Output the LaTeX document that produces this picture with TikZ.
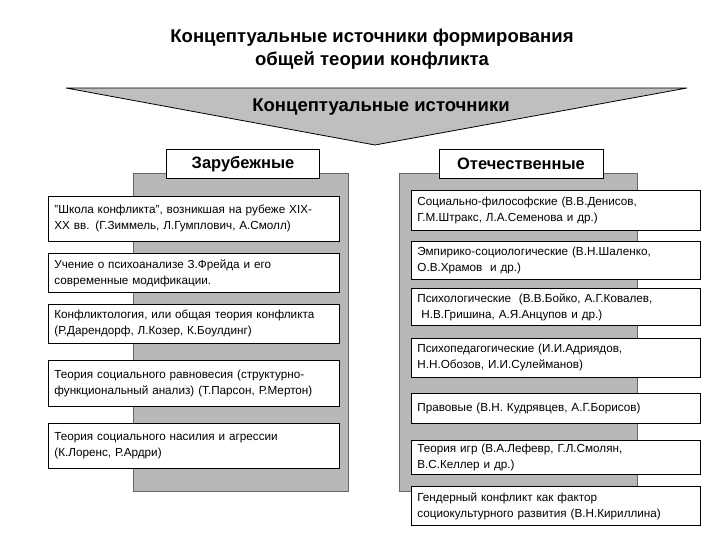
\documentclass[tikz,border=0pt]{standalone}
\usepackage{fontspec}
\setmainfont{Liberation Sans}
\begin{document}
\begin{tikzpicture}[x=1pt,y=-1pt,
  item/.style={draw=black,fill=white,anchor=north west,align=left,inner xsep=6pt,inner ysep=2pt,font=\fontsize{11.7}{16}\selectfont,line width=0.8pt},
  head/.style={draw=black,fill=white,line width=0.8pt,font=\bfseries\fontsize{16.5}{18}\selectfont,minimum height=29pt},
  panel/.style={draw=black!60,fill=black!28,line width=0.8pt}]
\useasboundingbox (0,0) rectangle (720,540);
\node[font=\bfseries\fontsize{18.5}{23}\selectfont,align=center] (title) at (372,49) {Концептуальные источники формирования\\общей теории конфликта};
\draw[fill=black!25,line width=0.8pt] (66,88) -- (687,88) -- (375,145) -- cycle;
\node[font=\bfseries\fontsize{18.5}{20}\selectfont] (src) at (381,107) {Концептуальные источники};
% left
\draw[panel] (133,173) rectangle (348,491);
\node[head,minimum width=153pt] (lh) at (243,164) {Зарубежные};
\node[item,text width=279pt,minimum height=45pt] (l1) at (48,196) {"Школа конфликта", возникшая на рубеже XIX-\\XX вв. (Г.Зиммель, Л.Гумплович, А.Смолл)};
\node[item,text width=279pt,minimum height=39pt] (l2) at (48,253) {Учение о психоанализе З.Фрейда и его\\современные модификации.};
\node[item,text width=279pt,minimum height=39pt] (l3) at (48,304) {Конфликтология, или общая теория конфликта\\(Р.Дарендорф, Л.Козер, К.Боулдинг)};
\node[item,text width=279pt,minimum height=46pt] (l4) at (48,360) {Теория социального равновесия (структурно-\\функциональный анализ) (Т.Парсон, Р.Мертон)};
\node[item,text width=279pt,minimum height=45pt] (l5) at (48,423) {Теория социального насилия и агрессии\\(К.Лоренс, Р.Ардри)};
% right
\draw[panel] (399,173) rectangle (637,491);
\node[head,minimum width=164pt] (rh) at (521,164) {Отечественные};
\node[item,text width=277pt,minimum height=40pt] (r1) at (411,190) {Социально-философские (В.В.Денисов,\\Г.М.Штракс, Л.А.Семенова и др.)};
\node[item,text width=277pt,minimum height=38pt] (r2) at (411,241) {Эмпирико-социологические (В.Н.Шаленко,\\О.В.Храмов~ и др.)};
\node[item,text width=277pt,minimum height=37pt] (r3) at (411,288) {Психологические~ (В.В.Бойко, А.Г.Ковалев,\\~Н.В.Гришина, А.Я.Анцупов и др.)};
\node[item,text width=277pt,minimum height=39pt] (r4) at (411,338) {Психопедагогические (И.И.Адриядов,\\Н.Н.Обозов, И.И.Сулейманов)};
\node[item,text width=277pt,minimum height=30pt] (r5) at (411,393) {Правовые (В.Н. Кудрявцев, А.Г.Борисов)};
\node[item,text width=277pt,minimum height=34pt] (r6) at (411,440) {Теория игр (В.А.Лефевр, Г.Л.Смолян,\\В.С.Келлер и др.)};
\node[item,text width=277pt,minimum height=39pt] (r7) at (411,486) {Гендерный конфликт как фактор\\социокультурного развития (В.Н.Кириллина)};
\end{tikzpicture}
\end{document}
